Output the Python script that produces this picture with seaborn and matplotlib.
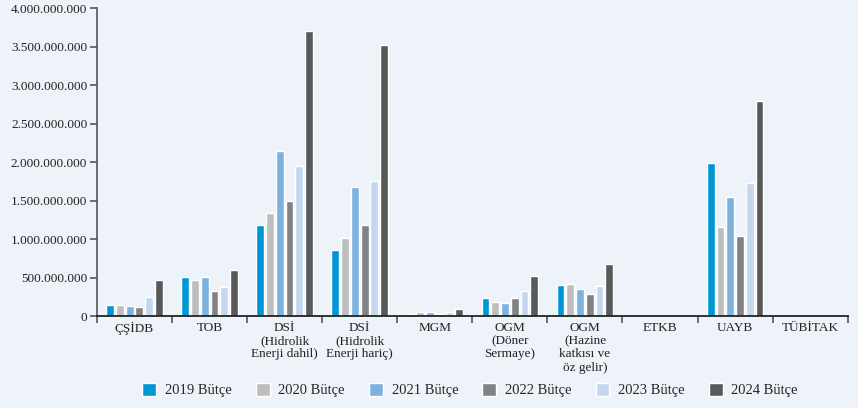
import seaborn as sns
import matplotlib.pyplot as plt
import pandas as pd
from matplotlib.ticker import FuncFormatter, FixedLocator

# Kurumlar ve bütçe yılları
kurumlar = ["ÇŞİDB", "TOB", "DSİ\n(Hidrolik\nEnerji dahil)", "DSİ\n(Hidrolik\nEnerji hariç)",
            "MGM", "OGM\n(Döner\nSermaye)", "OGM\n(Hazine\nkatkısı ve\nöz gelir)",
            "ETKB", "UAYB", "TÜBİTAK"]
yillar = ["2019 Bütçe", "2020 Bütçe", "2021 Bütçe", "2022 Bütçe", "2023 Bütçe", "2024 Bütçe"]

# Değerler (milyon TL)
b2019 = [147, 510, 1178, 861, 35, 234, 407, 22, 1985, 22]
b2020 = [147, 467, 1334, 1017, 53, 190, 420, 20, 1160, 20]
b2021 = [135, 510, 2150, 1680, 53, 177, 359, 22, 1545, 22]
b2022 = [122, 324, 1490, 1186, 35, 230, 290, 20, 1035, 20]
b2023 = [250, 385, 1945, 1757, 53, 325, 398, 0, 1725, 0]
b2024 = [467, 600, 3700, 3524, 92, 519, 680, 20, 2790, 20]

renkler = ["#0096d6", "#bdbec0", "#7db2df", "#808285", "#c3d8ee", "#58595b"]

rows = []
for yil, vals in zip(yillar, [b2019, b2020, b2021, b2022, b2023, b2024]):
    for k, v in zip(kurumlar, vals):
        rows.append({"kurum": k, "yil": yil, "deger": v * 1e6})
df = pd.DataFrame(rows)

sns.set_theme(style="white")
bg = "#eef3f9"
plt.rcParams["font.family"] = ["Liberation Serif", "DejaVu Serif"]

fig = plt.figure(figsize=(8.58, 4.08), dpi=100, facecolor=bg)
ax = fig.add_axes([0.113, 0.225, 0.875, 0.755], facecolor=bg)

sns.barplot(data=df, x="kurum", y="deger", hue="yil", palette=renkler,
            width=0.78, gap=0.2, saturation=1, ax=ax, legend=True)

ax.set_ylim(0, 4e9)
ax.set_xlim(-0.5, len(kurumlar) - 0.5)
ax.set_yticks([i * 5e8 for i in range(9)])
ax.yaxis.set_major_formatter(FuncFormatter(lambda v, p: f"{int(v):,}".replace(",", ".")))
ax.set_xlabel("")
ax.set_ylabel("")

# grup sınırlarında tikler
ax.xaxis.set_minor_locator(FixedLocator([i - 0.5 for i in range(len(kurumlar) + 1)]))
ax.tick_params(axis="x", which="major", length=0, pad=4, labelsize=9.5, colors="#222222")
ax.tick_params(axis="x", which="minor", length=5, width=1.2, color="#555555", bottom=True)
ax.tick_params(axis="y", length=5, width=1.2, color="#555555", left=True, labelsize=9.5,
               labelcolor="#222222", pad=2)
for lbl in ax.get_xticklabels():
    lbl.set_linespacing(1.15)

sns.despine(ax=ax)
ax.spines["left"].set_color("#555555")
ax.spines["left"].set_linewidth(1.2)
ax.spines["bottom"].set_color("#222222")
ax.spines["bottom"].set_linewidth(1.3)

ax.legend(loc="center", bbox_to_anchor=(0.548, 0.044), bbox_transform=fig.transFigure,
          ncol=6, frameon=False, fontsize=10.5, handlelength=0.95, handleheight=1.0,
          columnspacing=1.65, handletextpad=0.6)

fig.savefig("out.png", dpi=100, facecolor=bg)
